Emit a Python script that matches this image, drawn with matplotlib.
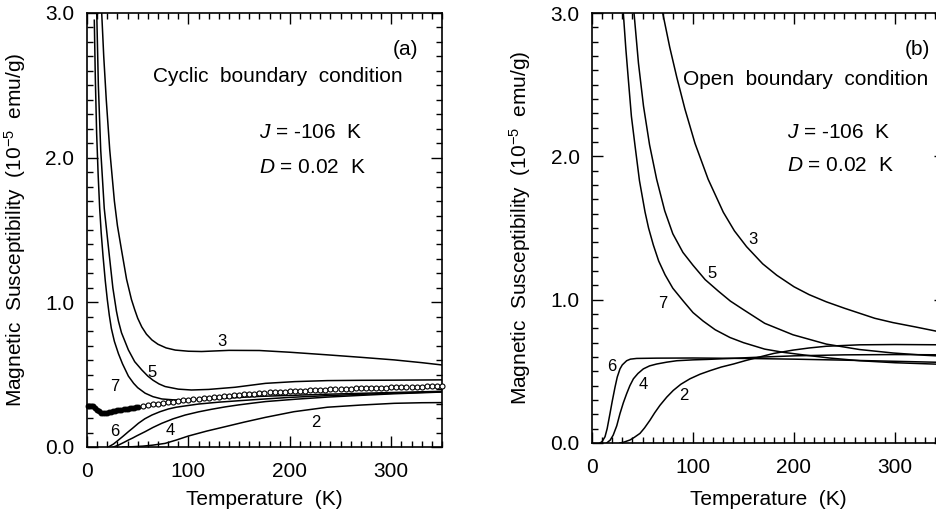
import matplotlib
matplotlib.use("Agg")
import matplotlib.pyplot as plt
from matplotlib.ticker import MultipleLocator, FormatStrFormatter

plt.rcParams["font.family"] = "Liberation Sans"
plt.rcParams["mathtext.fontset"] = "custom"
plt.rcParams["mathtext.rm"] = "Liberation Sans"
plt.rcParams["mathtext.it"] = "Liberation Sans:italic"

# ---- (a) condicion de contorno ciclica ----
a3_T = [14.5, 16.5, 19, 22.4, 27, 30, 34, 39, 43.8, 47, 50, 54, 58.6, 64, 70, 78, 87, 100, 113, 140, 170, 200,
        237, 270, 303, 330, 350]
a3_chi = [3.0, 2.7, 2.4, 2.055, 1.7, 1.53, 1.363, 1.16, 1.02, 0.95, 0.89, 0.83, 0.78, 0.74, 0.71, 0.685, 0.67, 0.662,
          0.66, 0.668, 0.667, 0.655, 0.637, 0.62, 0.602, 0.583, 0.567]

a5_T = [9.6, 11.2, 13.5, 17, 21.4, 25.5, 29, 31, 34, 40.8, 47, 54, 60, 65, 71, 77, 90, 103, 120, 146, 176, 205,
        237, 270, 303, 350]
a5_chi = [3.0, 2.5, 2.055, 1.65, 1.363, 1.1, 0.94, 0.87, 0.79, 0.671, 0.59, 0.533, 0.49, 0.462, 0.436, 0.418, 0.4,
          0.394, 0.398, 0.413, 0.44, 0.452, 0.459, 0.461, 0.462, 0.464]

a7_T = [7.2, 8.2, 9.5, 11, 12.5, 14, 15.8, 18, 20, 22, 24, 27, 31, 35, 40.8, 46, 50, 57.3, 65, 73.8, 85, 97, 130,
        171, 237, 303, 350]
a7_chi = [2.95, 2.55, 2.17, 1.88, 1.65, 1.48, 1.32, 1.15, 1.02, 0.91, 0.82, 0.73, 0.645, 0.575, 0.49, 0.44, 0.41,
          0.372, 0.348, 0.332, 0.326, 0.325, 0.335, 0.35, 0.365, 0.377, 0.385]

a6_T = [21, 26, 31, 36, 40.8, 45, 50.7, 57, 64, 72, 80.3, 88, 96.8, 110, 130, 150, 171, 200, 237, 270, 303, 350]
a6_chi = [0.0, 0.02, 0.048, 0.077, 0.106, 0.13, 0.164, 0.195, 0.221, 0.244, 0.263, 0.275, 0.284, 0.297, 0.31, 0.32,
          0.33, 0.343, 0.355, 0.364, 0.372, 0.382]

a4_T = [26, 30, 33, 37, 40.8, 45, 49, 57.3, 65, 73.8, 85, 96.8, 110, 123, 136, 149.5, 163, 176, 205, 237, 270, 303, 350]
a4_chi = [0.0, 0.01, 0.02, 0.034, 0.048, 0.062, 0.077, 0.106, 0.135, 0.164, 0.195, 0.221, 0.243, 0.261, 0.277, 0.291,
          0.303, 0.314, 0.33, 0.345, 0.357, 0.368, 0.38]

a2_T = [35, 45, 55, 65, 77, 88, 100, 118, 136, 155, 176, 204, 237, 270, 303, 330, 350]
a2_chi = [0.0, 0.002, 0.006, 0.013, 0.025, 0.048, 0.076, 0.11, 0.14, 0.172, 0.205, 0.244, 0.275, 0.29, 0.302, 0.306, 0.307]

# datos experimentales (circulos)
exp_T = [1, 2, 4, 6, 8, 10, 12, 14, 16, 18, 20, 22, 24, 26, 28, 30, 32, 34, 36, 38, 40, 42, 44, 46, 48, 50,
         55, 60, 65, 70, 75, 80, 85, 90, 95, 100, 105, 110, 115, 120, 125, 130, 135, 140, 145, 150,
         155, 160, 165, 170, 175, 180, 185, 190, 195, 200, 205, 210, 215, 220, 225, 230, 235, 240, 245, 250,
         255, 260, 265, 270, 275, 280, 285, 290, 295, 300, 305, 310, 315, 320, 325, 330, 335, 340, 345, 350]
exp_chi = [0.285, 0.285, 0.284, 0.281, 0.272, 0.258, 0.246, 0.238, 0.234, 0.235, 0.238, 0.241, 0.244, 0.247, 0.25, 0.253,
           0.256, 0.258, 0.261, 0.263, 0.266, 0.268, 0.271, 0.273, 0.276, 0.278,
           0.284, 0.289, 0.294, 0.299, 0.304, 0.309, 0.313, 0.318, 0.322, 0.326, 0.33, 0.334, 0.338, 0.342, 0.345,
           0.349, 0.352, 0.355, 0.358, 0.361, 0.364, 0.367, 0.369, 0.372, 0.374, 0.377, 0.379, 0.381, 0.383, 0.385,
           0.387, 0.389, 0.39, 0.392, 0.394, 0.395, 0.397, 0.398, 0.4, 0.401, 0.402, 0.404, 0.405, 0.406, 0.407,
           0.408, 0.409, 0.41, 0.411, 0.412, 0.413, 0.414, 0.415, 0.416, 0.417, 0.418, 0.419, 0.42, 0.421, 0.422]

# ---- (b) condicion de contorno abierta ----
b3_T = [70, 77, 84, 92, 102, 115, 130, 141, 153, 169, 183, 200, 215, 232, 250, 265, 280, 298, 320, 341, 350]
b3_chi = [3.0, 2.76, 2.55, 2.33, 2.09, 1.84, 1.61, 1.48, 1.37, 1.25, 1.17, 1.09, 1.035, 0.985, 0.94, 0.905, 0.87,
          0.84, 0.81, 0.78, 0.77]

b5_T = [41.6, 46, 51, 57, 64, 72, 80, 90, 100, 112, 125, 137, 150, 171, 199, 232, 265, 298, 330, 350]
b5_chi = [3.0, 2.65, 2.35, 2.08, 1.84, 1.62, 1.46, 1.33, 1.24, 1.14, 1.06, 0.99, 0.93, 0.835, 0.755, 0.69, 0.652,
          0.628, 0.612, 0.605]

b7_T = [31, 33.5, 36, 39, 42.6, 47, 52.5, 56, 60.7, 66, 72.3, 80, 90.4, 100, 110, 122, 136.6, 150, 171, 190, 209,
        235, 265, 300, 350]
b7_chi = [3.0, 2.75, 2.535, 2.28, 2.074, 1.83, 1.612, 1.5, 1.382, 1.27, 1.174, 1.08, 0.99, 0.91, 0.851, 0.79, 0.736,
          0.70, 0.655, 0.632, 0.615, 0.593, 0.574, 0.56, 0.548]

b6_T = [7.9, 10, 12.9, 15, 17.8, 20, 22.8, 25, 27.7, 30, 34.3, 38, 44.2, 64, 100, 150, 200, 250, 300, 350]
b6_chi = [0.0, 0.01, 0.044, 0.1, 0.205, 0.29, 0.39, 0.46, 0.517, 0.545, 0.574, 0.585, 0.59, 0.592, 0.593, 0.59,
          0.585, 0.578, 0.57, 0.562]

b4_T = [14.5, 18, 21, 24.5, 27.7, 31, 34.3, 37.5, 41, 45.5, 50.8, 57, 64, 74, 84, 100, 113.6, 163, 200, 250, 300, 350]
b4_chi = [0.0, 0.02, 0.055, 0.12, 0.205, 0.28, 0.344, 0.4, 0.448, 0.485, 0.517, 0.538, 0.551, 0.564, 0.574, 0.58,
          0.583, 0.598, 0.608, 0.615, 0.617, 0.615]

b2_T = [27.7, 32, 37.6, 42, 47.5, 52, 57.4, 62, 67.3, 74, 80.5, 88, 97, 107, 117, 128, 140, 152, 163, 180, 199, 215,
        232, 265, 300, 350]
b2_chi = [0.0, 0.007, 0.021, 0.04, 0.067, 0.105, 0.159, 0.21, 0.263, 0.32, 0.367, 0.41, 0.448, 0.48, 0.505, 0.53,
          0.551, 0.575, 0.595, 0.625, 0.648, 0.663, 0.675, 0.685, 0.687, 0.685]


def formato_ejes(ax):
    ax.set_xlim(0, 350)
    ax.set_ylim(0, 3.0)
    ax.xaxis.set_major_locator(MultipleLocator(100))
    ax.xaxis.set_minor_locator(MultipleLocator(10))
    ax.yaxis.set_major_locator(MultipleLocator(1.0))
    ax.yaxis.set_minor_locator(MultipleLocator(0.1))
    ax.yaxis.set_major_formatter(FormatStrFormatter("%.1f"))
    ax.tick_params(which="both", direction="in", top=True, right=True, labelsize=15, width=1)
    ax.tick_params(which="major", length=8)
    ax.tick_params(which="minor", length=4)
    ax.tick_params(axis="x", pad=11)
    ax.tick_params(axis="y", pad=9)
    for s in ax.spines.values():
        s.set_linewidth(1.2)
    ax.set_xlabel("Temperature  (K)", fontsize=15)
    ax.set_ylabel("Magnetic  Susceptibility  (10$^{-5}$  emu/g)", fontsize=15)


fig = plt.figure(figsize=(9.37, 5.19), dpi=100)
ax_a = fig.add_axes([87 / 937, 72 / 519, 355 / 937, 434 / 519])
ax_b = fig.add_axes([592 / 937, 76 / 519, 353.5 / 937, 430 / 519])

# panel (a)
for T, chi in [(a3_T, a3_chi), (a5_T, a5_chi), (a7_T, a7_chi), (a6_T, a6_chi), (a4_T, a4_chi), (a2_T, a2_chi)]:
    ax_a.plot(T, chi, color="black", lw=1.1)

# los puntos densos de baja T se ven rellenos en la figura original
denso = [i for i, t in enumerate(exp_T) if t <= 50]
resto = [i for i, t in enumerate(exp_T) if t > 50]
ax_a.plot([exp_T[i] for i in denso], [exp_chi[i] for i in denso], "o", mfc="black", mec="black",
          ms=3.4, mew=0.8, zorder=3, clip_on=False)
ax_a.plot([exp_T[i] for i in resto], [exp_chi[i] for i in resto], "o", mfc="white", mec="black",
          ms=3.6, mew=0.8, zorder=3, clip_on=False)

for etiqueta, x, y in [("3", 133, 0.73), ("5", 64, 0.514), ("7", 27.7, 0.417),
                       ("6", 27, 0.106), ("4", 82, 0.113), ("2", 226, 0.168)]:
    ax_a.text(x, y, etiqueta, fontsize=12, ha="center", va="center")

ax_a.text(327, 2.75, "(a)", fontsize=15, ha="right", va="center")
ax_a.text(311, 2.558, "Cyclic  boundary  condition", fontsize=15, ha="right", va="center")
ax_a.text(170, 2.171, "$J$ = -106  K", fontsize=15, ha="left", va="center")
ax_a.text(170, 1.929, "$D$ = 0.02  K", fontsize=15, ha="left", va="center")
formato_ejes(ax_a)
ax_a.xaxis.set_label_coords(0.5, -0.099)
ax_a.yaxis.set_label_coords(-0.165, 0.5)

# panel (b)
for T, chi in [(b3_T, b3_chi), (b5_T, b5_chi), (b7_T, b7_chi), (b6_T, b6_chi), (b4_T, b4_chi), (b2_T, b2_chi)]:
    ax_b.plot(T, chi, color="black", lw=1.1)

for etiqueta, x, y in [("3", 159.4, 1.418), ("5", 118.5, 1.185), ("7", 70, 0.971),
                       ("6", 19.5, 0.533), ("4", 50.8, 0.408), ("2", 91, 0.332)]:
    ax_b.text(x, y, etiqueta, fontsize=12, ha="center", va="center")

ax_b.text(334.6, 2.742, "(b)", fontsize=15, ha="right", va="center")
ax_b.text(90, 2.533, "Open  boundary  condition", fontsize=15, ha="left", va="center")
ax_b.text(192.8, 2.166, "$J$ = -106  K", fontsize=15, ha="left", va="center")
ax_b.text(192.8, 1.938, "$D$ = 0.02  K", fontsize=15, ha="left", va="center")
formato_ejes(ax_b)
ax_b.xaxis.set_label_coords(0.5, -0.109)
ax_b.yaxis.set_label_coords(-0.167, 0.5)

plt.savefig("out.png", dpi=100)
plt.close()
